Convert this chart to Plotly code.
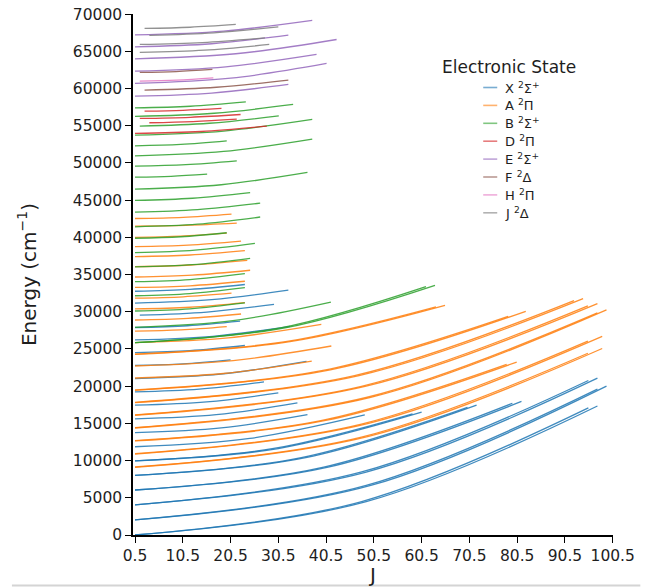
import plotly.graph_objects as go

# ---------------- data ----------------
# Each curve: J at start, J at end, energy at start, energy at mid-J, energy at end (cm^-1)
X_J0 = [0.5, 0.5, 0.5, 0.5, 0.5, 0.5, 0.5, 0.5, 0.5, 0.5, 0.5, 0.5, 0.5, 0.5, 0.5, 0.5, 0.5, 0.5, 0.5, 0.5, 0.5, 0.5, 1.5, 0.5, 0.5]
X_J1 = [97.3, 95.4, 99.2, 97.3, 97.3, 95.4, 81.4, 79.5, 72.0, 70.1, 60.5, 58.6, 48.6, 36.6, 34.5, 30.5, 27.5, 36.4, 20.5, 23.5, 33.0, 22.5, 29.6, 32.6, 23.5]
X_E0 = [0, 0, 2042, 2042, 4059, 4059, 6049, 6049, 8013, 8013, 9950, 9950, 11862, 13747, 15606, 17440, 19246, 21027, 22782, 24509, 26211, 27886, 29537, 31161, 32758]
X_EM = [4483, 4494, 6657, 6668, 8459, 8469, 9113, 9122, 10393, 10401, 11622, 11628, 12979, 14389, 16173, 17884, 19607, 21637, 22986, 24769, 26701, 28121, 29952, 31624, 33004]
X_E1 = [17330, 17080, 20000, 19600, 21080, 20765, 17944, 17702, 17450, 17160, 16500, 16279, 16132, 16169, 17742, 19101, 20588, 23328, 23524, 25468, 28051, 28748, 30993, 32900, 33667]

A_J0 = [0.5] * 31
A_J1 = [98.3, 95.3, 98.3, 95.3, 80.4, 78.3, 99.2, 97.3, 97.3, 95.3, 94.3, 92.4, 82.3, 78.6,
        37.5, 41.6, 65.4, 63.5, 39.5, 19.7, 22.7, 23.5, 20.7, 23.5, 24.6, 24.0, 23.5, 22.7, 19.7, 21.8, 20.7]
A_E0 = [9091, 9143, 10880, 10930, 12640, 12690, 14380, 14430, 16090, 16140, 17780, 17830, 19440, 19490,
        21099, 22709, 24270, 24320, 25852, 27386, 28894, 30377, 31834, 33266, 34673, 36055, 37411, 38742, 40000, 41520, 42530]
A_EM = [13257, 13152, 15003, 14900, 15395, 15372, 18490, 18478, 20008, 19989, 21422, 21412, 22198, 22081,
        21702, 23434, 25973, 25976, 26497, 27556, 29113, 30609, 32014, 33492, 34917, 36285, 37629, 38944, 40153, 41610, 42694]
A_E1 = [25060, 24427, 26690, 26055, 23240, 22939, 30250, 29842, 31100, 30793, 31760, 31488, 30060, 29386,
        23379, 25400, 30850, 30654, 28294, 28005, 29702, 31232, 32493, 34101, 35576, 36905, 38217, 39485, 40557, 41900, 43127]

B_J0 = [0.5, 0.5, 0.5, 0.5, 0.5, 0.5, 0.5, 0.5, 0.5, 0.5, 0.5, 0.5, 0.5, 0.5, 0.5, 0.5, 0.5, 0.5, 1.5, 0.5, 0.5]
B_J1 = [63.3, 61.4, 41.5, 23.5, 23.5, 23.5, 24.6, 25.6, 19.7, 26.7, 26.7, 24.6, 36.6, 15.6, 21.8, 37.6, 19.7, 37.6, 30.6, 33.6, 23.7]
B_E0 = [25850, 25850, 27910, 30100, 32150, 34040, 36020, 37950, 39880, 41420, 43380, 44960, 46480, 48090, 49570, 50950, 52300, 53730, 54940, 56250, 57400]
B_EM = [27841, 27846, 28806, 30399, 32445, 34332, 36334, 38284, 40082, 41774, 43729, 45255, 47071, 48203, 49763, 51542, 52484, 54285, 55334, 56676, 57620]
B_E1 = [33560, 33393, 31311, 31204, 33241, 35118, 37184, 39193, 40615, 42736, 44600, 46000, 48720, 48490, 50280, 53200, 52970, 55840, 56330, 57860, 58210]

D_J0 = [0.5, 3.5, 1.5, 2.5]
D_J1 = [28.1, 21.8, 22.6, 18.6]
D_E0 = [53960, 55400, 55980, 56960]
D_EM = [54223, 55565, 56135, 57075]
D_E1 = [54940, 55900, 56510, 57320]

E_J0 = [0.5, 0.5, 0.5, 0.5, 0.5, 0.5]
E_J1 = [32.6, 40.6, 38.5, 42.7, 32.6, 37.6]
E_E0 = [58970, 60680, 62330, 63990, 65600, 67215]
E_EM = [59389, 61385, 62922, 64671, 66016, 67724]
E_E1 = [60550, 63370, 64580, 66590, 67170, 69150]

F_J0 = [2.5, 1.5]
F_J1 = [32.6, 16.7]
F_E0 = [59780, 62160]
F_EM = [60172, 62284]
F_E1 = [61130, 62560]

H_J0 = [1.5]
H_J1 = [16.9]
H_E0 = [60990]
H_EM = [61130]
H_E1 = [61440]

J_J0 = [2.5, 3.5, 1.5, 1.5]
J_J1 = [21.6, 30.5, 27.7, 28.6]
J_E0 = [68075, 67130, 65920, 64850]
J_EM = [68236, 67478, 66178, 65155]
J_E1 = [68610, 68290, 66810, 65920]

STATE_LABELS = ["X <sup>2</sup>Σ<sup>+</sup>", "A <sup>2</sup>Π", "B <sup>2</sup>Σ<sup>+</sup>", "D <sup>2</sup>Π",
                "E <sup>2</sup>Σ<sup>+</sup>", "F <sup>2</sup>Δ", "H <sup>2</sup>Π", "J <sup>2</sup>Δ"]
X_TICKS = [0.5, 10.5, 20.5, 30.5, 40.5, 50.5, 60.5, 70.5, 80.5, 90.5, 100.5]
Y_TICKS = list(range(0, 70001, 5000))

# ---------------- styling ----------------
COLORS = ["#1f77b4", "#ff7f0e", "#2ca02c", "#d62728", "#9467bd", "#8c564b", "#e377c2", "#7f7f7f"]
LEG_COLORS = ["rgba(31,119,180,0.6)", "rgba(255,127,14,0.6)", "rgba(44,160,44,0.6)", "rgba(214,39,40,0.6)",
              "rgba(148,103,189,0.6)", "rgba(140,86,75,0.6)", "rgba(227,119,194,0.6)", "rgba(127,127,127,0.6)"]
FONT = "DejaVu Sans"
TXT = "#1e1e1e"

states = [
    (X_J0, X_J1, X_E0, X_EM, X_E1),
    (A_J0, A_J1, A_E0, A_EM, A_E1),
    (B_J0, B_J1, B_E0, B_EM, B_E1),
    (D_J0, D_J1, D_E0, D_EM, D_E1),
    (E_J0, E_J1, E_E0, E_EM, E_E1),
    (F_J0, F_J1, F_E0, F_EM, F_E1),
    (H_J0, H_J1, H_E0, H_EM, H_E1),
    (J_J0, J_J1, J_E0, J_EM, J_E1),
]

fig = go.Figure()
for si, (j0s, j1s, e0s, ems, e1s) in enumerate(states):
    for j0, j1, e0, em, e1 in zip(j0s, j1s, e0s, ems, e1s):
        fig.add_trace(go.Scatter(
            x=[j0, (j0 + j1) / 2, j1], y=[e0, em, e1],
            mode="lines", line=dict(color=COLORS[si], width=1.3, shape="spline"),
            opacity=0.85, name=STATE_LABELS[si], showlegend=False, hoverinfo="skip"))

# figure fills the whole 653x587 window (body margin removed by post_script)
W, H = 653, 587
L, T = 133, 14
R = W - 612.7
Bm = H - 535
PW, PH = W - L - R, H - T - Bm


def px(xp):
    return (xp - L) / PW


def py(yp):
    return (H - Bm - yp) / PH


shapes = []
annotations = []
# manual legend
annotations.append(dict(x=px(509), y=py(67), xref="paper", yref="paper", text="Electronic State",
                        showarrow=False, xanchor="center", yanchor="middle",
                        font=dict(family=FONT, size=17, color=TXT)))
for i, lab in enumerate(STATE_LABELS):
    yy = 87.5 + 17.9 * i
    shapes.append(dict(type="line", xref="paper", yref="paper", x0=px(483), x1=px(497), y0=py(yy), y1=py(yy),
                       line=dict(color=LEG_COLORS[i], width=1.6)))
    annotations.append(dict(x=px(503), y=py(yy), xref="paper", yref="paper", text=lab, showarrow=False,
                            xanchor="left", yanchor="middle", font=dict(family=FONT, size=13, color=TXT)))
# light separator line at the bottom of the page
shapes.append(dict(type="line", xref="paper", yref="paper", x0=px(12), x1=px(640), y0=py(585.5), y1=py(585.5),
                   line=dict(color="#d4d4d4", width=2)))

fig.update_layout(
    template="none",
    width=W, height=H, margin=dict(l=L, r=R, t=T, b=Bm, pad=0, autoexpand=False),
    plot_bgcolor="white", paper_bgcolor="white",
    font=dict(family=FONT, size=15.5, color=TXT),
    showlegend=False, shapes=shapes, annotations=annotations,
    xaxis=dict(range=[0.08, 100.56], tickvals=X_TICKS, ticktext=[str(t) for t in X_TICKS],
               automargin=False, ticklabeloverflow="allow",
               showgrid=False, zeroline=False, showline=True, linecolor="black", linewidth=1.5,
               ticks="outside", ticklen=6, tickwidth=1.3, tickcolor="black",
               tickfont=dict(family=FONT, size=15.5, color=TXT),
               title=dict(text="J", font=dict(family=FONT, size=20, color=TXT), standoff=6)),
    yaxis=dict(range=[0, 70015], tickvals=Y_TICKS, ticktext=[str(t) for t in Y_TICKS],
               automargin=False, ticklabeloverflow="allow",
               showgrid=False, zeroline=False, showline=True, linecolor="black", linewidth=1.5,
               ticks="outside", ticklen=6, tickwidth=1.3, tickcolor="black",
               tickfont=dict(family=FONT, size=15.5, color=TXT),
               title=dict(text="Energy (cm<sup>−1</sup>)", font=dict(family=FONT, size=20, color=TXT),
                          standoff=31)),
)

fig.write_html("out.html", config={"displayModeBar": False, "staticPlot": False},
               post_script="document.body.style.margin='0px';")
